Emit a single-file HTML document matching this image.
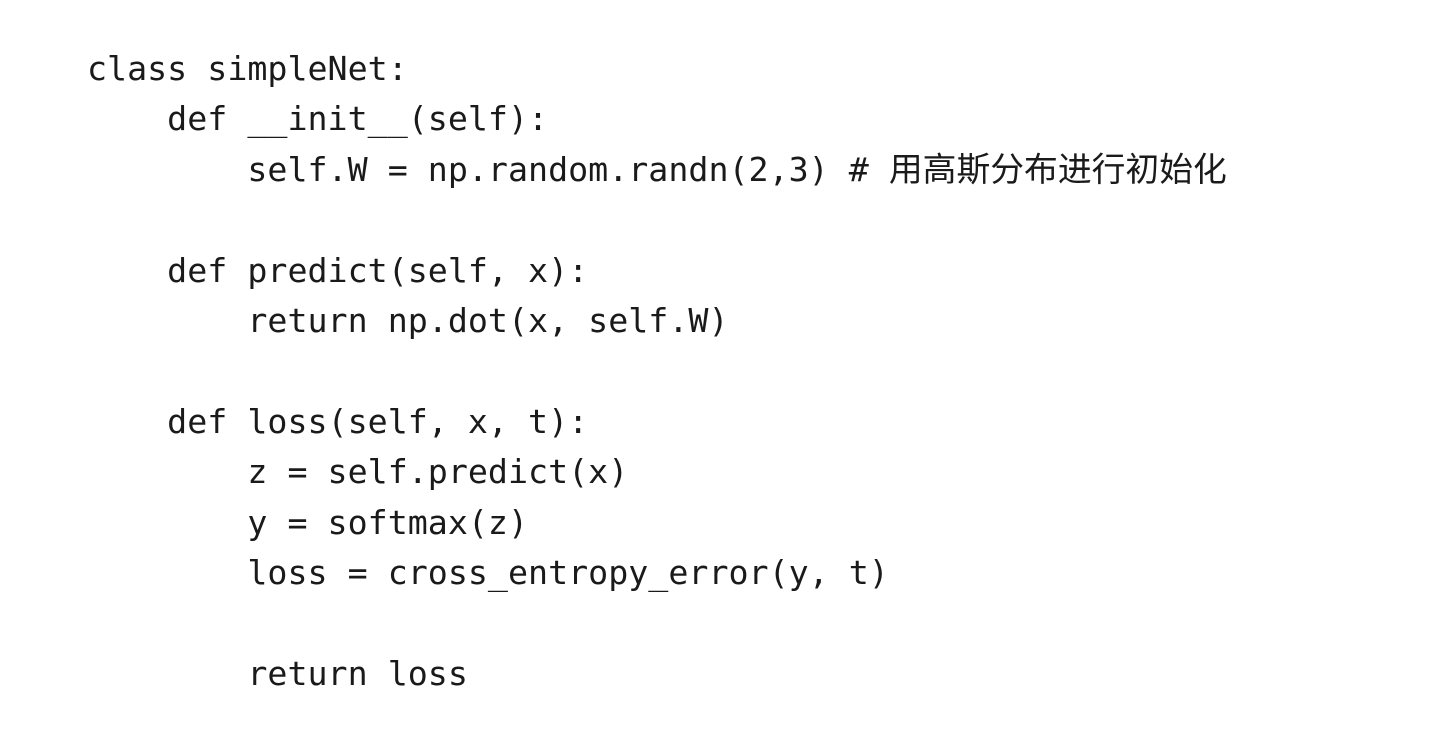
<!DOCTYPE html>
<html><head><meta charset="utf-8"><style>
html,body{margin:0;padding:0;background:#fff;width:1454px;height:738px;overflow:hidden}
.l{position:absolute;left:87px;margin:0;white-space:pre;font-family:"DejaVu Sans Mono","Liberation Mono","Noto Sans CJK SC",monospace;font-size:33.3px;line-height:50.4px;height:50.4px;color:#1a1a1a}
.c{font-family:"Noto Sans CJK SC",sans-serif;font-size:33.8px;line-height:0}
</style></head><body>
<div class="l" style="top:44px">class simpleNet:</div>
<div class="l" style="top:94.4px">    def __init__(self):</div>
<div class="l" style="top:144.8px">        self.W = np.random.randn(2,3) # <span class="c">用高斯分布进行初始化</span></div>
<div class="l" style="top:245.6px">    def predict(self, x):</div>
<div class="l" style="top:296px">        return np.dot(x, self.W)</div>
<div class="l" style="top:396.8px">    def loss(self, x, t):</div>
<div class="l" style="top:447.2px">        z = self.predict(x)</div>
<div class="l" style="top:497.6px">        y = softmax(z)</div>
<div class="l" style="top:548px">        loss = cross_entropy_error(y, t)</div>
<div class="l" style="top:648.8px">        return loss</div>
</body></html>
